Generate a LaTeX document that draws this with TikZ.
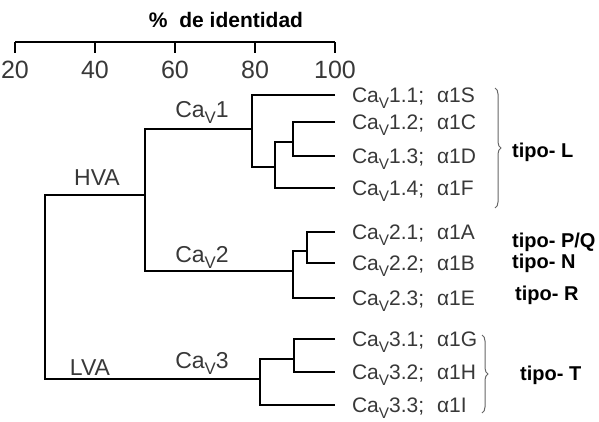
\documentclass[tikz,border=0pt]{standalone}
\usepackage{fontspec}
\setmainfont{Liberation Sans}
\usetikzlibrary{decorations.pathreplacing}
\definecolor{ink}{gray}{0.22}
\tikzset{
  branch/.style={draw,line width=2.2pt,line join=miter},
  leaf/.style={anchor=west,inner xsep=17pt,inner ysep=0pt,outer sep=0pt,
    text height=15pt,text depth=0pt,text=ink,font=\fontsize{21}{25}\selectfont},
  clade/.style={anchor=base,text=ink,font=\fontsize{23}{27}\selectfont},
  tipo/.style={anchor=base west,inner sep=0pt,font=\bfseries\fontsize{20}{24}\selectfont},
  scalenum/.style={anchor=base,text=ink,font=\fontsize{25}{29}\selectfont},
  bracket/.style={draw=black!60,line width=1pt,decorate,decoration={brace,amplitude=6pt}}
}
% Ca_V con V rebajada
\newcommand{\subV}{\raisebox{-0.29em}{\scalebox{0.73}{V}}}
% canal: Ca_V x.y; alpha1z
\newcommand{\canal}[2]{Ca\subV#1;\hspace{13pt}α1#2}

\begin{document}
\begin{tikzpicture}[x=1pt,y=-1pt]
  \useasboundingbox (0,0) rectangle (599,421);

  % escala
  \node[anchor=base,font=\bfseries\fontsize{21}{25}\selectfont] (titulo) at (226,27) {\%~~de identidad};
  \draw[branch] (15,42) -- (335,42);
  \foreach \v in {20,40,...,100} {
    \draw[branch] ({15+(\v-20)*4},42) -- ++(0,11);
    \node[scalenum] (num\v) at ({15+(\v-20)*4},78) {\v};
  }

  % hojas
  \node[leaf] (l11) at (335,95)  {\canal{1.1}{S}};
  \node[leaf] (l12) at (335,122) {\canal{1.2}{C}};
  \node[leaf] (l13) at (335,156) {\canal{1.3}{D}};
  \node[leaf] (l14) at (335,188) {\canal{1.4}{F}};
  \node[leaf] (l21) at (335,232) {\canal{2.1}{A}};
  \node[leaf] (l22) at (335,263) {\canal{2.2}{B}};
  \node[leaf] (l23) at (335,298) {\canal{2.3}{E}};
  \node[leaf] (l31) at (335,339) {\canal{3.1}{G}};
  \node[leaf] (l32) at (335,372) {\canal{3.2}{H}};
  \node[leaf] (l33) at (335,405) {\canal{3.3}{I}};

  % nodos internos
  \coordinate (root) at (45,287);
  \coordinate (hva)  at (145,195);
  \coordinate (cav1) at (252,129);
  \coordinate (n13)  at (275,167);
  \coordinate (n12)  at (293,142);
  \coordinate (cav2) at (293,271);
  \coordinate (n21)  at (307,251);
  \coordinate (cav3) at (260,379);
  \coordinate (n31)  at (294,359);

  \draw[branch] (hva) -| (root) |- (cav3);
  \draw[branch] (cav1) -| (hva) |- (cav2);
  \draw[branch] (l11.west) -| (cav1) |- (n13);
  \draw[branch] (n12) -| (n13) |- (l14.west);
  \draw[branch] (l12.west) -| (n12) |- (l13.west);
  \draw[branch] (n21) -| (cav2) |- (l23.west);
  \draw[branch] (l21.west) -| (n21) |- (l22.west);
  \draw[branch] (n31) -| (cav3) |- (l33.west);
  \draw[branch] (l31.west) -| (n31) |- (l32.west);

  \node[clade] (hvalab) at (97,185) {HVA};
  \node[clade] (lvalab) at (90,375) {LVA};
  \node[clade] (cav1lab) at (202,117) {Ca\subV1};
  \node[clade] (cav2lab) at (202,262) {Ca\subV2};
  \node[clade] (cav3lab) at (202,368) {Ca\subV3};

  % tipos
  \draw[bracket] (495,88) -- (495,208);
  \draw[bracket] (482,335) -- (482,413);
  \node[tipo] (tipoL) at (512,157) {tipo- L};
  \node[tipo] (tipoPQ) at (512,247) {tipo- P/Q};
  \node[tipo] (tipoN) at (512,268) {tipo- N};
  \node[tipo] (tipoR) at (515,300) {tipo- R};
  \node[tipo] (tipoT) at (520,380) {tipo- T};
\end{tikzpicture}
\end{document}
